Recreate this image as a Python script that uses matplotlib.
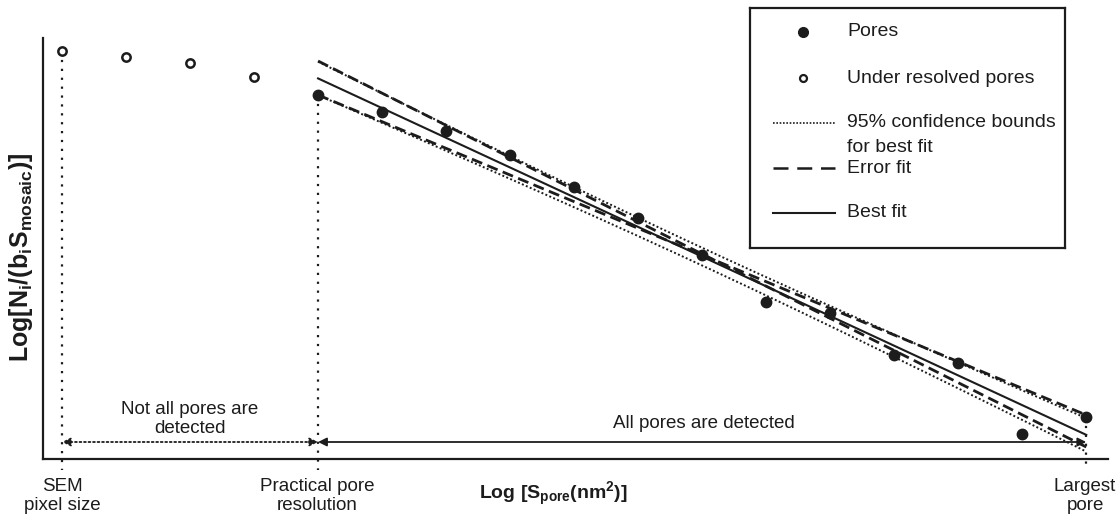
import numpy as np
import matplotlib
matplotlib.use("Agg")
import matplotlib.pyplot as plt
from matplotlib.lines import Line2D

plt.rcParams["font.family"] = ["Liberation Sans", "DejaVu Sans"]
plt.rcParams["mathtext.fontset"] = "custom"
plt.rcParams["mathtext.rm"] = "Liberation Sans:bold"
plt.rcParams["mathtext.it"] = "Liberation Sans:bold"
plt.rcParams["mathtext.bf"] = "Liberation Sans:bold"

INK = "#1c1c1c"

# ---- data (log pore size in arbitrary units, log normalised count) ----
size_under = [0, 1, 2, 3]
count_under = [10.2, 10.05, 9.9, 9.55]

size_pores = [4, 5, 6, 7, 8, 9, 10, 11, 12, 13, 14, 15, 16]
count_pores = [9.1, 8.68, 8.2, 7.6, 6.8, 6.03, 5.1, 3.93, 3.65, 2.6, 2.4, 0.63, 1.05]

# two error fits, given by their end values
err_size = [4, 16]
err_steep = [9.95, 0.3]
err_flat = [9.1, 1.1]

sem_pixel = 0
practical_res = 4
largest_pore = 16
detect_level = 0.425

# ---- best fit and 95% confidence bounds of the mean ----
xp = np.array(size_pores, float)
yp = np.array(count_pores, float)
slope, icpt = np.polyfit(xp, yp, 1)
n = len(xp)
resid = yp - (slope * xp + icpt)
s = np.sqrt(np.sum(resid ** 2) / (n - 2))
t95 = 2.201  # Student t, 11 dof, two-sided 95 %
xf = np.linspace(xp.min(), xp.max(), 200)
yf = slope * xf + icpt
half = t95 * s * np.sqrt(1 / n + (xf - xp.mean()) ** 2 / np.sum((xp - xp.mean()) ** 2))

# ---- figure ----
fig = plt.figure(figsize=(11.2, 5.22), dpi=100)
ax = fig.add_axes([43 / 1120, 1 - 459 / 522, (1108 - 43) / 1120, (459 - 38) / 522])
ax.set_xlim(-0.297, 16.34)
ax.set_ylim(0, 10.525)
for side in ("top", "right"):
    ax.spines[side].set_visible(False)
for side in ("left", "bottom"):
    ax.spines[side].set_linewidth(1.6)
    ax.spines[side].set_color(INK)
ax.set_xticks([])
ax.set_yticks([])

# vertical guides
ax.plot([sem_pixel, sem_pixel], [count_under[0], -0.28], ls=(0, (1, 3)), lw=1.6,
        color=INK, clip_on=False)
ax.plot([practical_res, practical_res], [count_pores[0], -0.28], ls=(0, (1, 3)), lw=1.6,
        color=INK, clip_on=False)
ax.plot([largest_pore, largest_pore], [count_pores[-1], -0.28], ls=(0, (1, 3)), lw=1.6,
        color=INK, clip_on=False)

# detection range arrows
ax.annotate("", xy=(sem_pixel, detect_level), xytext=(practical_res, detect_level),
            arrowprops=dict(arrowstyle="<|-|>,head_length=0.5,head_width=0.25",
                            color=INK, lw=1.3, ls=(0, (1, 1.5)), shrinkA=0, shrinkB=0))
ax.annotate("", xy=(practical_res, detect_level), xytext=(largest_pore, detect_level),
            arrowprops=dict(arrowstyle="<|-|>,head_length=0.5,head_width=0.25",
                            color=INK, lw=1.3, shrinkA=0, shrinkB=0))

# confidence bounds
ax.plot(xf, yf + half, ls=(0, (1, 1.2)), lw=1.4, color=INK)
ax.plot(xf, yf - half, ls=(0, (1, 1.2)), lw=1.4, color=INK)
# error fits
ax.plot(err_size, err_steep, ls=(0, (4, 2)), lw=2.0, color=INK)
ax.plot(err_size, err_flat, ls=(0, (4, 2)), lw=2.0, color=INK)
# best fit
ax.plot(xf, yf, ls="-", lw=1.5, color=INK)

# points
ax.plot(size_under, count_under, ls="none", marker="o", ms=6, mfc="white",
        mec=INK, mew=1.8, clip_on=False, zorder=5)
ax.plot(size_pores, count_pores, ls="none", marker="o", ms=7.5, mfc=INK,
        mec=INK, clip_on=False, zorder=5)

# annotations
fs = 13.5
ax.text(sem_pixel + 2, 1.0, "Not all pores are\ndetected", ha="center", va="center",
        fontsize=fs, color=INK, linespacing=1.15)
ax.text(10.02, 0.9, "All pores are detected", ha="center", va="center",
        fontsize=fs, color=INK)
fig.text(62 / 1120, 1 - 496 / 522, "SEM\npixel size", ha="center", va="center",
         fontsize=fs, color=INK, linespacing=1.2)
fig.text(317 / 1120, 1 - 496 / 522, "Practical pore\nresolution", ha="center", va="center",
         fontsize=fs, color=INK, linespacing=1.2)
fig.text(1085 / 1120, 1 - 496 / 522, "Largest\npore", ha="center", va="center",
         fontsize=fs, color=INK, linespacing=1.2)

fig.text(553 / 1120, 1 - 494 / 522, r"Log [S$_{\mathrm{pore}}$(nm$^{\mathrm{2}}$)]",
         ha="center", va="center", fontsize=14, fontweight="bold", color=INK)
fig.text(21 / 1120, 1 - 257 / 522,
         r"Log[N$_{\mathrm{i}}$/(b$_{\mathrm{i}}$S$_{\mathrm{mosaic}}$)]",
         ha="center", va="center", rotation=90, fontsize=18, fontweight="bold", color=INK)

# legend panel
lg = fig.add_axes([750 / 1120, 1 - 248 / 522, 315 / 1120, 240 / 522])
lg.set_xlim(0, 1)
lg.set_ylim(0, 1)
lg.set_xticks([])
lg.set_yticks([])
for sp in lg.spines.values():
    sp.set_linewidth(1.6)
    sp.set_color(INK)
lg.add_line(Line2D([0.168], [0.9], ls="none", marker="o", ms=7, mfc=INK, mec=INK))
lg.add_line(Line2D([0.168], [0.708], ls="none", marker="o", ms=5, mfc="white",
                   mec=INK, mew=1.6))
lg.add_line(Line2D([0.073, 0.27], [0.521, 0.521], ls=(0, (1, 1)), lw=1.2, color=INK))
lg.add_line(Line2D([0.073, 0.27], [0.333, 0.333], ls=(0, (6, 3.5)), lw=1.8, color=INK))
lg.add_line(Line2D([0.073, 0.27], [0.146, 0.146], ls="-", lw=1.5, color=INK))
tx = 0.308
lfs = 14
lg.text(tx, 0.9, "Pores", va="center", fontsize=lfs, color=INK)
lg.text(tx, 0.708, "Under resolved pores", va="center", fontsize=lfs, color=INK)
lg.text(tx, 0.521, "95% confidence bounds", va="center", fontsize=lfs, color=INK)
lg.text(tx, 0.417, "for best fit", va="center", fontsize=lfs, color=INK)
lg.text(tx, 0.333, "Error fit", va="center", fontsize=lfs, color=INK)
lg.text(tx, 0.146, "Best fit", va="center", fontsize=lfs, color=INK)

fig.savefig("out.png", dpi=100)
